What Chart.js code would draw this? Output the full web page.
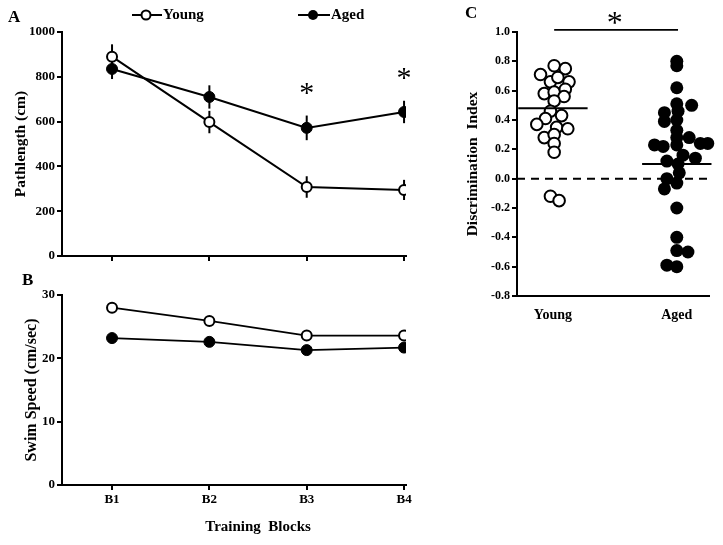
<!DOCTYPE html>
<html><head><meta charset="utf-8">
<script src="https://cdn.jsdelivr.net/npm/chart.js@4"></script>
<style>
html,body{margin:0;padding:0;background:#fff;}
#wrap{position:relative;width:723px;height:545px;background:#fff;}
canvas{position:absolute;left:0;top:0;}
</style></head><body>
<div id="wrap">
<canvas id="cA" width="723" height="545"></canvas>
<canvas id="cB" width="723" height="545"></canvas>
<canvas id="cC" width="723" height="545"></canvas>
</div>
<script>
// ---------- data ----------
const blocks = ['B1', 'B2', 'B3', 'B4'];
const youngPath = [890, 598, 308, 295];
const youngPathErr = [55, 50, 48, 45];
const agedPath = [835, 710, 572, 643];
const agedPathErr = [45, 52, 55, 50];
const sigBlocks = [3, 4];
const youngSpeed = [28.0, 25.9, 23.6, 23.6];
const agedSpeed = [23.2, 22.6, 21.3, 21.7];
const groups = ['Young', 'Aged'];
const youngDI = [0.71, 0.77, 0.75, 0.66, 0.69, 0.66, 0.58, 0.59, 0.61, 0.56, 0.53, 0.46,
                 0.41, 0.43, 0.37, 0.35, 0.34, 0.28, 0.30, 0.24, 0.18, -0.12, -0.15];
const youngJitter = [-0.10, 0.01, 0.10, -0.02, 0.04, 0.13, -0.07, 0.01, 0.10, 0.09, 0.01, -0.02,
                     -0.06, 0.07, -0.13, 0.03, 0.12, -0.07, 0.01, 0.01, 0.01, -0.02, 0.05];
const agedDI = [0.80, 0.77, 0.62, 0.51, 0.50, 0.45, 0.46, 0.39, 0.40, 0.33, 0.28, 0.23, 0.22, 0.23,
                0.28, 0.24, 0.24, 0.16, 0.14, 0.12, 0.10, 0.04, 0.00, -0.03, -0.07, -0.20,
                -0.40, -0.49, -0.50, -0.59, -0.60];
const agedJitter = [0, 0, 0, 0, 0.12, -0.10, 0.01, -0.10, 0, 0, 0, -0.18, -0.11, 0,
                    0.10, 0.19, 0.25, 0.05, 0.15, -0.08, 0.01, 0.02, -0.08, 0, -0.10, 0,
                    0, 0, 0.09, -0.08, 0];
const groupMeans = [0.48, 0.10];

// ---------- helpers ----------
const FONT = '"Liberation Serif", "Times New Roman", serif';
const bold = (size) => ({ family: FONT, weight: 'bold', size: size });
const xy = (vals) => vals.map((v, i) => ({ x: i + 1, y: v }));
const blockTicks = (s) => { s.ticks = blocks.map((b, i) => ({ value: i + 1 })); };

function star(ctx, x, cy, size) {
  ctx.save();
  ctx.font = size + 'px ' + FONT;
  ctx.fillStyle = '#000';
  ctx.textAlign = 'center';
  ctx.textBaseline = 'alphabetic';
  const m = ctx.measureText('*');
  const y = cy + (m.actualBoundingBoxAscent - m.actualBoundingBoxDescent) / 2;
  ctx.fillText('*', x, y);
  ctx.restore();
}
function label(ctx, txt, x, y, size, align) {
  ctx.save();
  ctx.font = 'bold ' + size + 'px ' + FONT;
  ctx.fillStyle = '#000';
  ctx.textAlign = align || 'left';
  ctx.textBaseline = 'middle';
  ctx.fillText(txt, x, y);
  ctx.restore();
}

const baseOpts = {
  responsive: false, animation: false, devicePixelRatio: 1,
  plugins: { legend: { display: false }, tooltip: { enabled: false } }
};
const yAxis = (min, max, step, title, titlePad, width, fmt, fsize, tsize) => ({
  min: min, max: max,
  ticks: { stepSize: step, color: '#000', font: bold(fsize || 13), padding: 2,
           callback: fmt || ((v) => v) },
  grid: { drawOnChartArea: false, drawTicks: true, tickLength: 5, color: '#000', lineWidth: 2 },
  border: { display: true, color: '#000', width: 2 },
  title: { display: true, text: title, color: '#000', font: bold(tsize || 15.5), padding: { top: titlePad, bottom: 0 } },
  afterFit: (s) => { s.width = width; }
});
const blockAxis = (showLabels, height) => ({
  type: 'linear', min: 0.486, max: 4.02,
  afterBuildTicks: blockTicks,
  ticks: { display: showLabels, color: '#000', font: bold(13), padding: 2,
           callback: (v) => blocks[Math.round(v) - 1] },
  grid: { drawOnChartArea: false, drawTicks: true, tickLength: 5, color: '#000', lineWidth: 2 },
  border: { display: true, color: '#000', width: 2 },
  afterFit: (s) => { s.height = height; }
});

// ---------- Panel A ----------
const errorBars = {
  id: 'errorBars',
  beforeDatasetsDraw(chart) {
    const ctx = chart.ctx, ys = chart.scales.y;
    chart.data.datasets.forEach((ds, di) => {
      if (!ds.errors) return;
      const meta = chart.getDatasetMeta(di);
      ctx.save();
      ctx.strokeStyle = '#000';
      ctx.lineWidth = 2;
      ds.data.forEach((p, i) => {
        const x = meta.data[i].x;
        ctx.beginPath();
        ctx.moveTo(x, ys.getPixelForValue(p.y - ds.errors[i]));
        ctx.lineTo(x, ys.getPixelForValue(p.y + ds.errors[i]));
        ctx.stroke();
      });
      ctx.restore();
    });
  }
};
const panelAExtras = {
  id: 'panelAExtras',
  afterDraw(chart) {
    const ctx = chart.ctx, xs = chart.scales.x, ys = chart.scales.y;
    sigBlocks.forEach((b) => {
      const i = b - 1;
      const top = ys.getPixelForValue(agedPath[i] + agedPathErr[i]);
      star(ctx, xs.getPixelForValue(b), top - 27, 30);
    });
    label(ctx, 'A', 8, 18, 17);
    ctx.save();
    ctx.strokeStyle = '#000'; ctx.lineWidth = 2;
    ctx.beginPath(); ctx.moveTo(132, 15); ctx.lineTo(162, 15); ctx.stroke();
    ctx.beginPath(); ctx.arc(146, 15, 4.5, 0, Math.PI * 2); ctx.fillStyle = '#fff'; ctx.fill(); ctx.stroke();
    ctx.beginPath(); ctx.moveTo(298, 15); ctx.lineTo(330, 15); ctx.stroke();
    ctx.beginPath(); ctx.arc(313, 15, 5, 0, Math.PI * 2); ctx.fillStyle = '#000'; ctx.fill();
    ctx.restore();
    label(ctx, groups[0], 163, 15, 15);
    label(ctx, groups[1], 331, 15, 15);
  }
};
new Chart(document.getElementById('cA'), {
  type: 'line',
  data: { datasets: [
    { label: 'Young', data: xy(youngPath), errors: youngPathErr, borderColor: '#000', borderWidth: 2,
      pointRadius: 5, pointBackgroundColor: '#fff', pointBorderColor: '#000', pointBorderWidth: 2, tension: 0 },
    { label: 'Aged', data: xy(agedPath), errors: agedPathErr, borderColor: '#000', borderWidth: 2,
      pointRadius: 5.5, pointBackgroundColor: '#000', pointBorderColor: '#000', pointBorderWidth: 1, tension: 0 }
  ] },
  options: Object.assign({}, baseOpts, {
    layout: { padding: { left: 0, top: 32, right: 317, bottom: 279 } },
    scales: {
      x: blockAxis(false, 10),
      y: yAxis(0, 1000, 200, 'Pathlength (cm)', 11.7, 62)
    }
  }),
  plugins: [errorBars, panelAExtras]
});

// ---------- Panel B ----------
const panelBExtras = {
  id: 'panelBExtras',
  afterDraw(chart) {
    const ctx = chart.ctx, xs = chart.scales.x;
    label(ctx, 'B', 22, 281, 17);
    label(ctx, 'Training  Blocks', xs.getPixelForValue(2.5), 527, 15, 'center');
  }
};
new Chart(document.getElementById('cB'), {
  type: 'line',
  data: { datasets: [
    { label: 'Young', data: xy(youngSpeed), borderColor: '#000', borderWidth: 1.8,
      pointRadius: 5, pointBackgroundColor: '#fff', pointBorderColor: '#000', pointBorderWidth: 2, tension: 0 },
    { label: 'Aged', data: xy(agedSpeed), borderColor: '#000', borderWidth: 1.8,
      pointRadius: 5.5, pointBackgroundColor: '#000', pointBorderColor: '#000', pointBorderWidth: 1, tension: 0 }
  ] },
  options: Object.assign({}, baseOpts, {
    layout: { padding: { left: 0, top: 295, right: 317, bottom: 0 } },
    scales: {
      x: blockAxis(true, 60),
      y: yAxis(0, 30, 10, 'Swim Speed (cm/sec)', 22.4, 62, null, 13, 16)
    }
  }),
  plugins: [panelBExtras]
});

// ---------- Panel C ----------
const halfMean = 0.28;
const panelCExtras = {
  id: 'panelCExtras',
  afterDraw(chart) {
    const ctx = chart.ctx, xs = chart.scales.x;
    label(ctx, 'C', 465, 14, 17);
    star(ctx, xs.getPixelForValue(1.5), 18, 32);
  }
};
new Chart(document.getElementById('cC'), {
  type: 'scatter',
  data: { datasets: [
    { label: 'Young mean', type: 'line', order: 0, data: [{ x: 1 - halfMean, y: groupMeans[0] }, { x: 1 + halfMean, y: groupMeans[0] }],
      borderColor: '#000', borderWidth: 2, pointRadius: 0, clip: false },
    { label: 'Aged mean', type: 'line', order: 0, data: [{ x: 2 - halfMean, y: groupMeans[1] }, { x: 2 + halfMean, y: groupMeans[1] }],
      borderColor: '#000', borderWidth: 2, pointRadius: 0, clip: false },
    { label: 'Young', order: 1, data: youngDI.map((v, i) => ({ x: 1 + youngJitter[i], y: v })),
      pointRadius: 5.8, pointBackgroundColor: '#fff', pointBorderColor: '#000', pointBorderWidth: 2, clip: false },
    { label: 'Aged', order: 1, data: agedDI.map((v, i) => ({ x: 2 + agedJitter[i], y: v })),
      pointRadius: 6.5, pointBackgroundColor: '#000', pointBorderColor: '#000', pointBorderWidth: 0, clip: false },
    { label: 'zero', type: 'line', order: 2, data: [{ x: 0.71, y: 0 }, { x: 2.26, y: 0 }],
      borderColor: '#000', borderWidth: 2, borderDash: [8, 6], pointRadius: 0, clip: false },
    { label: 'sig', type: 'line', order: 0, data: [{ x: 1.01, y: 1.015 }, { x: 2.01, y: 1.015 }],
      borderColor: '#000', borderWidth: 1.8, pointRadius: 0, clip: false }
  ] },
  options: Object.assign({}, baseOpts, {
    layout: { padding: { left: 440, top: 32, right: 14, bottom: 209 } },
    scales: {
      x: {
        type: 'linear', min: 0.71, max: 2.26,
        afterBuildTicks: (s) => { s.ticks = groups.map((g, i) => ({ value: i + 1 })); },
        ticks: { color: '#000', font: bold(14), padding: 11, callback: (v) => groups[Math.round(v) - 1] },
        grid: { drawOnChartArea: false, drawTicks: false },
        border: { display: true, color: '#000', width: 2 },
        afterFit: (s) => { s.height = 40; }
      },
      y: yAxis(-0.8, 1.0, 0.2, 'Discrimination  Index', 23.7, 77, (v) => v.toFixed(1), 12)
    }
  }),
  plugins: [panelCExtras]
});
</script>
</body></html>
